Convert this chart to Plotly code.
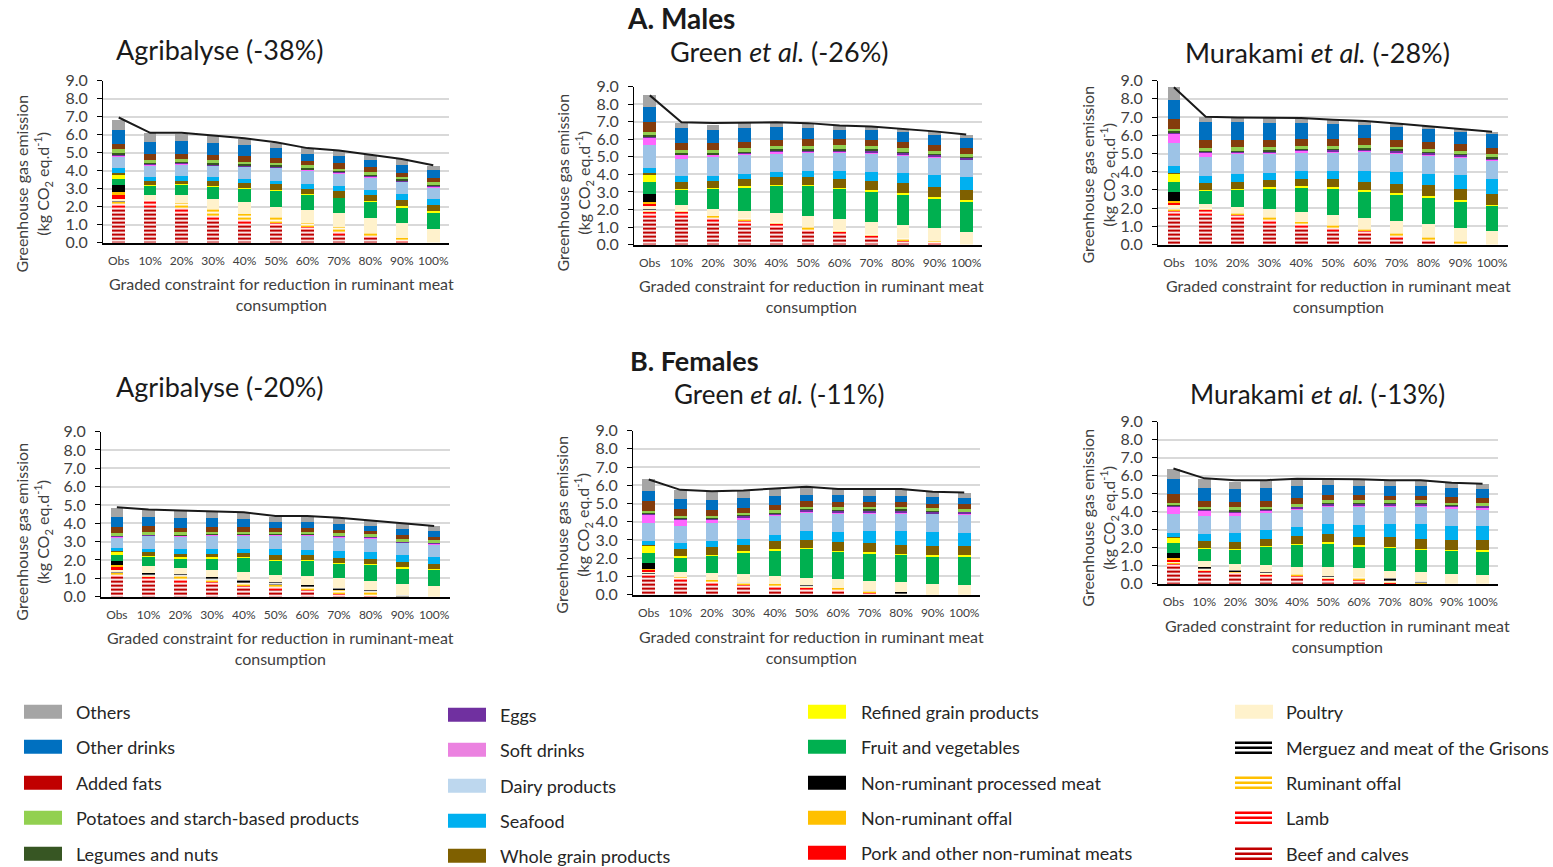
import plotly.graph_objects as go

W, H = 1553, 867

TICKS = ['Obs', '10%', '20%', '30%', '40%', '50%', '60%', '70%', '80%', '90%', '100%']

# each category: one row per panel
# panels: Agribalyse M, Green M, Murakami M, Agribalyse F, Green F, Murakami F
BEEF = [
    [1.85, 2.0, 1.6, 1.25, 1.05, .95, .7, .5, .3, .06, 0],
    [1.6, 1.6, 1.3, 1.1, .95, .72, .57, .4, .2, .07, 0],
    [1.62, 1.6, 1.3, 1.1, .9, .72, .57, .38, .2, .07, 0],
    [1.05, .85, .75, .65, .48, .4, .28, .1, .03, 0, 0],
    [.95, .68, .52, .42, .3, .25, .18, .05, 0, 0, 0],
    [.95, .62, .48, .4, .28, .2, .12, .03, 0, 0, 0],
]
LAMB = [
    [.35, .37, .3, .25, .2, .15, .15, .1, .08, .02, 0],
    [.3, .3, .25, .25, .2, .18, .15, .1, .08, .03, 0],
    [.3, .35, .3, .25, .2, .18, .15, .1, .08, .03, 0],
    [.2, .2, .17, .15, .12, .1, .07, .05, .02, 0, 0],
    [.2, .17, .13, .1, .13, .1, .07, .03, 0, 0, 0],
    [.2, .15, .12, .1, .12, .08, .08, .02, 0, 0, 0],
]
RUM_OFFAL = [
    [.08, .02, .3, .35, .35, .3, .25, .25, .17, .2, 0],
    [.08, .05, .1, .15, .13, .1, .13, .12, .1, .12, 0],
    [.1, .05, .12, .15, .15, .15, .13, .14, .12, .1, 0],
    [.08, .15, .18, .15, .2, .2, .2, .25, .25, .04, 0],
    [.05, .12, .15, .15, .15, .12, .13, .15, .08, 0, 0],
    [.05, .1, .12, .12, .15, .12, .15, .15, .07, 0, 0],
]
MERGUEZ = [
    [.07, 0, 0, 0, 0, 0, 0, 0, 0, 0, 0],
    [.05, 0, 0, 0, 0, 0, 0, 0, 0, 0, 0],
    [.05, 0, 0, 0, 0, 0, 0, 0, 0, 0, 0],
    [.05, .1, .12, .1, .1, .08, .07, .08, .05, .06, 0],
    [.03, 0, 0, .05, 0, .05, 0, .05, .07, 0, 0],
    [.02, .05, .05, .05, 0, .05, 0, .1, .05, 0, 0],
]
POULTRY = [
    [.08, .26, .42, .6, .65, .6, .7, .77, .8, .8, .78],
    [.15, .3, .4, .43, .52, .62, .63, .68, .74, .73, .72],
    [.08, .23, .35, .45, .53, .6, .63, .7, .75, .73, .75],
    [.1, .35, .33, .4, .42, .42, .48, .52, .5, .58, .6],
    [.05, .28, .4, .4, .42, .4, .47, .47, .53, .58, .55],
    [.05, .33, .33, .35, .4, .5, .5, .42, .53, .55, .5],
]
PORK = [
    [.29, 0, 0, 0, 0, 0, 0, 0, 0, 0, 0],
    [.2, 0, 0, 0, 0, 0, 0, 0, 0, 0, 0],
    [.18, 0, 0, 0, 0, 0, 0, 0, 0, 0, 0],
    [.18, 0, 0, 0, 0, 0, 0, 0, 0, 0, 0],
    [.1, 0, 0, 0, 0, 0, 0, 0, 0, 0, 0],
    [.1, 0, 0, 0, 0, 0, 0, 0, 0, 0, 0],
]
NR_OFFAL = [
    [.07, 0, 0, 0, 0, 0, 0, 0, 0, 0, 0],
    [.04, 0, 0, 0, 0, 0, 0, 0, 0, 0, 0],
    [.05, 0, 0, 0, 0, 0, 0, 0, 0, 0, 0],
    [.05, 0, 0, 0, 0, 0, 0, 0, 0, 0, 0],
    [.03, 0, 0, 0, 0, 0, 0, 0, 0, 0, 0],
    [.03, 0, 0, 0, 0, 0, 0, 0, 0, 0, 0],
]
NR_PROCESSED = [
    [.41, 0, 0, 0, 0, 0, 0, 0, 0, 0, 0],
    [.48, 0, 0, 0, 0, 0, 0, 0, 0, 0, 0],
    [.49, 0, 0, 0, 0, 0, 0, 0, 0, 0, 0],
    [.22, 0, 0, 0, 0, 0, 0, 0, 0, 0, 0],
    [.33, 0, 0, 0, 0, 0, 0, 0, 0, 0, 0],
    [.3, 0, 0, 0, 0, 0, 0, 0, 0, 0, 0],
]
FRUIT_VEG = [
    [.35, .55, .63, .7, .78, .93, .9, .88, .93, .9, .94],
    [.67, .9, 1.17, 1.37, 1.57, 1.75, 1.72, 1.75, 1.76, 1.72, 1.75],
    [.55, .74, .96, 1.16, 1.37, 1.45, 1.45, 1.46, 1.45, 1.45, 1.4],
    [.32, .55, .57, .67, .83, .8, .87, .82, .9, .9, .9],
    [.55, .82, .97, 1.21, 1.45, 1.63, 1.55, 1.55, 1.52, 1.54, 1.57],
    [.54, .7, .83, 1.05, 1.25, 1.3, 1.25, 1.31, 1.28, 1.3, 1.3],
]
REFINED = [
    [.26, .02, .02, .02, .02, .02, .02, 0, .04, .07, .04],
    [.47, .03, .03, .05, .05, .05, .05, .05, .04, .05, .05],
    [.51, .03, .04, .04, .05, .05, .05, .05, .05, .05, .05],
    [.22, .02, .02, .02, .02, .02, .02, .03, .02, .02, .02],
    [.4, .03, .03, .05, .05, .03, .02, .02, .02, .03, .05],
    [.33, .02, .02, .03, .02, .05, .02, .02, .02, .03, .05],
]
WHOLE = [
    [.05, .2, .18, .23, .25, .3, .28, .35, .33, .3, .32],
    [.03, .37, .4, .37, .45, .45, .5, .55, .58, .56, .58],
    [.02, .4, .38, .37, .4, .45, .47, .52, .6, .62, .6],
    [.02, .2, .21, .21, .21, .23, .26, .25, .28, .28, .28],
    [.03, .39, .42, .37, .42, .42, .46, .53, .53, .5, .48],
    [.03, .4, .38, .4, .4, .45, .48, .53, .53, .54, .55],
]
SEAFOOD = [
    [.27, .2, .23, .25, .25, .2, .28, .3, .3, .35, .37],
    [.31, .33, .27, .31, .28, .33, .47, .5, .6, .7, .75],
    [.38, .39, .4, .43, .42, .45, .6, .65, .63, .75, .82],
    [.16, .18, .25, .27, .24, .33, .3, .4, .4, .37, .38],
    [.2, .32, .33, .33, .38, .48, .57, .63, .77, .8, .73],
    [.22, .41, .47, .48, .5, .55, .65, .72, .82, .8, .8],
]
DAIRY = [
    [.7, .7, .7, .65, .7, .75, .77, .73, .7, .72, .65],
    [1.3, 1.0, 1.08, 1.12, 1.07, 1.08, 1.05, 1.07, 1.02, 1.02, 1.0],
    [1.25, 1.04, 1.1, 1.05, 1.08, 1.03, 1.07, 1.02, 1.02, 1.0, 1.0],
    [.6, .75, .7, .73, .73, .77, .8, .75, .73, .7, .7],
    [1.0, .98, .97, 1.02, 1.05, 1.07, 1.05, 1.02, .98, 1.0, 1.02],
    [1.06, .97, .97, .95, 1.0, 1.0, 1.05, 1.02, 1.02, .98, .95],
]
SOFT_DRINKS = [
    [.05, .03, .03, .03, .02, .02, .02, .02, .03, .02, .02],
    [.45, .25, .13, .06, .08, .05, .05, .05, .05, .05, .04],
    [.55, .23, .11, .07, .06, .06, .06, .06, .06, .05, .04],
    [.07, .03, .04, .04, .04, .04, .04, .03, .05, .02, .02],
    [.48, .35, .2, .18, .05, .05, .05, .05, .05, .03, .05],
    [.45, .35, .2, .15, .08, .08, .08, .06, .06, .05, .05],
]
EGGS = [
    [.05, .04, .04, .05, .05, .05, .03, .05, .06, .05, .06],
    [.06, .05, .05, .06, .08, .08, .09, .1, .09, .08, .08],
    [.05, .05, .06, .07, .06, .08, .08, .1, .1, .1, .11],
    [.04, .03, .04, .04, .04, .04, .04, .05, .05, .06, .06],
    [.05, .07, .06, .07, .08, .08, .08, .1, .1, .1, .12],
    [.05, .06, .07, .07, .09, .09, .09, .1, .1, .13, .15],
]
LEGUMES = [
    [.04, .03, .03, .04, .03, .03, .02, .03, .04, .03, .04],
    [.03, .02, .02, .03, .04, .04, .04, .05, .04, .04, .03],
    [.03, .03, .03, .03, .03, .03, .04, .04, .04, .03, .03],
    [.02, .02, .02, .02, .02, .02, .02, .02, .02, .02, .02],
    [.02, .03, .02, .03, .02, .03, .02, .03, .03, .02, .03],
    [.02, .02, .03, .03, .03, .03, .03, .04, .04, .04, .03],
]
POTATOES = [
    [.22, .18, .17, .18, .15, .12, .18, .12, .14, .13, .16],
    [.19, .2, .2, .2, .2, .17, .2, .18, .18, .18, .18],
    [.15, .18, .18, .16, .17, .17, .18, .15, .17, .17, .17],
    [.1, .1, .1, .1, .1, .1, .1, .1, .1, .1, .1],
    [.12, .08, .13, .12, .12, .12, .17, .12, .12, .15, .1],
    [.1, .08, .17, .1, .1, .12, .12, .1, .1, .08, .1],
]
ADDED_FATS = [
    [.28, .3, .3, .25, .3, .28, .25, .3, .26, .23, .22],
    [.57, .38, .37, .37, .36, .4, .38, .38, .37, .35, .34],
    [.55, .42, .4, .42, .38, .38, .37, .38, .35, .35, .33],
    [.3, .3, .25, .25, .27, .2, .2, .2, .2, .2, .2],
    [.55, .37, .29, .28, .3, .3, .28, .28, .28, .22, .25],
    [.5, .32, .28, .3, .33, .33, .3, .26, .26, .3, .27],
]
OTHER_DRINKS = [
    [.78, .7, .7, .7, .65, .55, .4, .42, .42, .44, .45],
    [.83, .85, .78, .78, .7, .63, .52, .54, .55, .57, .55],
    [1.04, .97, 1.0, .95, .9, .83, .73, .72, .7, .67, .75],
    [.57, .5, .55, .5, .43, .3, .33, .33, .25, .32, .3],
    [.55, .55, .58, .52, .5, .35, .35, .35, .35, .38, .37],
    [.84, .75, .72, .74, .69, .52, .53, .54, .57, .5, .53],
]
OTHERS = [
    [.57, .49, .4, .4, .33, .3, .3, .28, .28, .3, .23],
    [.69, .32, .25, .25, .27, .23, .2, .2, .2, .18, .2],
    [.69, .3, .28, .25, .25, .22, .2, .18, .2, .18, .15],
    [.5, .4, .38, .32, .32, .3, .3, .32, .3, .33, .27],
    [.63, .5, .45, .4, .4, .38, .35, .35, .35, .27, .28],
    [.55, .5, .43, .38, .38, .35, .33, .33, .3, .28, .27],
]
TOTAL = [
    [6.95, 6.1, 6.1, 5.97, 5.8, 5.57, 5.25, 5.12, 4.9, 4.65, 4.3],
    [8.5, 6.97, 6.93, 6.95, 6.97, 6.92, 6.78, 6.73, 6.6, 6.45, 6.27],
    [8.63, 7.02, 6.98, 6.95, 6.95, 6.85, 6.78, 6.65, 6.52, 6.35, 6.2],
    [4.88, 4.75, 4.7, 4.65, 4.6, 4.4, 4.4, 4.3, 4.15, 3.98, 3.85],
    [6.32, 5.75, 5.67, 5.72, 5.82, 5.92, 5.8, 5.8, 5.8, 5.65, 5.6],
    [6.4, 5.85, 5.75, 5.75, 5.83, 5.83, 5.8, 5.75, 5.75, 5.6, 5.55],
]

PANEL_TITLES = [
    'Agribalyse (-38%)', 'Green <i>et al.</i> (-26%)', 'Murakami <i>et al.</i> (-28%)',
    'Agribalyse (-20%)', 'Green <i>et al.</i> (-11%)', 'Murakami <i>et al.</i> (-13%)',
]
X_TITLES = [
    'Graded constraint for reduction in ruminant meat<br>consumption',
    'Graded constraint for reduction in ruminant meat<br>consumption',
    'Graded constraint for reduction in ruminant meat<br>consumption',
    'Graded constraint for reduction in ruminant-meat<br>consumption',
    'Graded constraint for reduction in ruminant meat<br>consumption',
    'Graded constraint for reduction in ruminant meat<br>consumption',
]

# stack order, bottom to top: (name, data, colour, striped)
STACK = [
    ('Beef and calves', BEEF, '#C00000', True),
    ('Lamb', LAMB, '#FF0000', True),
    ('Ruminant offal', RUM_OFFAL, '#FFC000', True),
    ('Merguez and meat of the Grisons', MERGUEZ, '#000000', True),
    ('Poultry', POULTRY, '#FFF2CC', False),
    ('Pork and other non-ruminat meats', PORK, '#FF0000', False),
    ('Non-ruminant offal', NR_OFFAL, '#FFC000', False),
    ('Non-ruminant processed meat', NR_PROCESSED, '#000000', False),
    ('Fruit and vegetables', FRUIT_VEG, '#00B050', False),
    ('Refined grain products', REFINED, '#FFFF00', False),
    ('Whole grain products', WHOLE, '#7F6000', False),
    ('Seafood', SEAFOOD, '#00B0F0', False),
    ('Dairy products', DAIRY, '#9DC3E6', False),
    ('Soft drinks', SOFT_DRINKS, '#FF66FF', False),
    ('Eggs', EGGS, '#7030A0', False),
    ('Legumes and nuts', LEGUMES, '#375623', False),
    ('Potatoes and starch-based products', POTATOES, '#92D050', False),
    ('Added fats', ADDED_FATS, '#843C0C', False),
    ('Other drinks', OTHER_DRINKS, '#0070C0', False),
    ('Others', OTHERS, '#A5A5A5', False),
]

# legend, column by column
LEGEND = [
    [('Others', '#A5A5A5', False), ('Other drinks', '#0070C0', False), ('Added fats', '#C00000', False),
     ('Potatoes and starch-based products', '#92D050', False), ('Legumes and nuts', '#375623', False)],
    [('Eggs', '#7030A0', False), ('Soft drinks', '#EB82E0', False), ('Dairy products', '#BDD7EE', False),
     ('Seafood', '#00B0F0', False), ('Whole grain products', '#7F6000', False)],
    [('Refined grain products', '#FFFF00', False), ('Fruit and vegetables', '#00B050', False),
     ('Non-ruminant processed meat', '#000000', False), ('Non-ruminant offal', '#FFC000', False),
     ('Pork and other non-ruminat meats', '#FF0000', False)],
    [('Poultry', '#FFF2CC', False), ('Merguez and meat of the Grisons', '#000000', True),
     ('Ruminant offal', '#FFC000', True), ('Lamb', '#FF0000', True), ('Beef and calves', '#C00000', True)],
]

# plot areas in pixels (left, right, top, bottom)
PANELS = [(103, 449, 81, 243), (634, 982, 87, 245), (1158, 1508, 81, 245),
          (101, 450, 432, 597), (633, 980, 431, 595), (1158, 1498, 422, 584)]
TITLE_POS = [(219, 50), (779, 52), (1317, 53), (219, 387), (779, 394), (1317, 394)]
XTITLE_POS = [(281, 294), (812, 296), (1338, 296), (280, 648), (811, 647), (1337, 636)]
YTITLE_POS = [(33, 184), (574, 183), (1099, 175), (33, 532), (573, 525), (1099, 518)]

FONT = 'Lato'
TXT = '#404040'


def px(x):
    return x / W


def py(y):
    # the photo squeezes the page a little vertically, undo that here
    return 1 - ((y - 10.4) / 0.978) / H


fig = go.Figure()

for p in range(6):
    sfx = '' if p == 0 else str(p + 1)
    for name, vals, color, striped in STACK:
        if striped:
            marker = dict(color=color, line=dict(width=0),
                          pattern=dict(shape='-', fgcolor=color, bgcolor='white',
                                       size=4, solidity=0.55, fillmode='replace'))
        else:
            marker = dict(color=color, line=dict(width=0))
        fig.add_trace(go.Bar(x=TICKS, y=vals[p], name=name, marker=marker, width=0.4,
                             xaxis='x' + sfx, yaxis='y' + sfx, showlegend=False))
    fig.add_trace(go.Scatter(x=TICKS, y=TOTAL[p], mode='lines', line=dict(color='#1a1a1a', width=2),
                             xaxis='x' + sfx, yaxis='y' + sfx, showlegend=False))

layout = dict(
    width=W, height=H, margin=dict(l=0, r=0, t=0, b=0),
    paper_bgcolor='white', plot_bgcolor='white', barmode='stack',
    font=dict(family=FONT, color=TXT), showlegend=False,
)

for p, (x0, x1, y0, y1) in enumerate(PANELS):
    sfx = '' if p == 0 else str(p + 1)
    layout['xaxis' + sfx] = dict(
        domain=[px(x0), px(x1)], anchor='y' + sfx, type='category',
        showline=True, linecolor='#000000', linewidth=1.5, showgrid=False,
        ticks='', ticklabelstandoff=6, tickfont=dict(size=12, color=TXT, family=FONT),
    )
    layout['yaxis' + sfx] = dict(
        domain=[py(y1), py(y0)], anchor='x' + sfx, range=[0, 9], dtick=1, tickformat='.1f',
        showline=True, linecolor='#000000', linewidth=1, ticks='outside', ticklen=5,
        tickcolor='#000000', gridcolor='#D9D9D9', gridwidth=1.5, zeroline=False,
        ticklabelstandoff=6, tickfont=dict(size=16, color=TXT, family=FONT),
    )

annotations = []


def ann(x, y, text, size, **kw):
    d = dict(x=px(x), y=py(y), xref='paper', yref='paper', text=text, showarrow=False,
             xanchor='center', yanchor='middle', font=dict(size=size, family=FONT, color=kw.pop('color', '#1a1a1a')))
    d.update(kw)
    annotations.append(d)


ann(681, 18, '<b>A. Males</b>', 28)
ann(694, 361, '<b>B. Females</b>', 27)

for p in range(6):
    tx, ty = TITLE_POS[p]
    ann(tx, ty, PANEL_TITLES[p], 27 if p < 3 or p == 3 else 26)
    xx, xy = XTITLE_POS[p]
    ann(xx, xy, X_TITLES[p], 16, color=TXT)
    yx, yy = YTITLE_POS[p]
    ann(yx, yy, 'Greenhouse gas emission<br>(kg CO<sub>2</sub> eq.d<sup>-1</sup>)', 16,
        textangle=-90, color=TXT)

shapes = []
COL_SWATCH_X = [24, 448, 808, 1235]
COL_TEXT_X = [74, 498, 859, 1284]
COL_ROWS_Y = [[712, 747, 783, 818, 854], [715, 750, 786, 821, 856],
              [712, 747, 783, 818, 853], [712, 748, 783, 818, 854]]

for c, items in enumerate(LEGEND):
    sx = COL_SWATCH_X[c]
    for r, (label, color, striped) in enumerate(items):
        cy = COL_ROWS_Y[c][r]
        if striped:
            for dy in (-5, 0, 5):
                shapes.append(dict(type='line', xref='paper', yref='paper',
                                   x0=px(sx), x1=px(sx + 37), y0=py(cy + dy), y1=py(cy + dy),
                                   line=dict(color=color, width=2.5)))
        else:
            shapes.append(dict(type='rect', xref='paper', yref='paper',
                               x0=px(sx), x1=px(sx + 38), y0=py(cy + 7), y1=py(cy - 7),
                               fillcolor=color, line=dict(width=0)))
        ann(COL_TEXT_X[c], cy, label, 18, xanchor='left', color='#262626')

layout['annotations'] = annotations
layout['shapes'] = shapes
fig.update_layout(**layout)

# the page's default body margin would push the figure off the window
fig.write_html('out.html', config={'displayModeBar': False},
               post_script="document.body.style.margin='0';")
